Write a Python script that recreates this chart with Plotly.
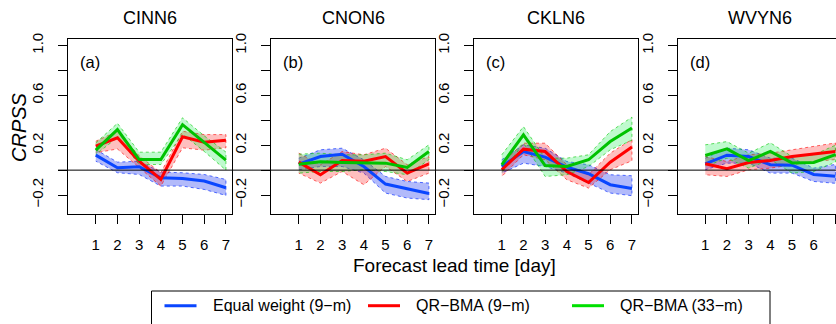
import plotly.graph_objects as go

# ---------------- data ----------------
lead_days = [1, 2, 3, 4, 5, 6, 7]
stations = ["CINN6", "CNON6", "CKLN6", "WVYN6"]
panel_tags = ["(a)", "(b)", "(c)", "(d)"]
method_names = ["Equal weight (9\u2212m)", "QR\u2212BMA (9\u2212m)", "QR\u2212BMA (33\u2212m)"]
y_tick_vals = [-0.2, 0.0, 0.2, 0.4, 0.6, 0.8, 1.0]
y_tick_text = ["\u22120.2", "", "0.2", "", "0.6", "", "1.0"]
x_tick_vals = [1, 2, 3, 4, 5, 6, 7]

# CINN6
cinn6_ew = [0.120, 0.019, 0.027, -0.061, -0.067, -0.088, -0.141]
cinn6_ew_lo = [0.072, -0.021, -0.035, -0.128, -0.128, -0.155, -0.203]
cinn6_ew_hi = [0.165, 0.064, 0.072, -0.016, -0.021, -0.035, -0.075]
cinn6_qr9 = [0.192, 0.259, 0.072, -0.075, 0.267, 0.224, 0.240]
cinn6_qr9_lo = [0.139, 0.170, 0.020, -0.128, 0.179, 0.160, 0.179]
cinn6_qr9_hi = [0.232, 0.312, 0.115, -0.021, 0.312, 0.285, 0.285]
cinn6_qr33 = [0.160, 0.325, 0.085, 0.085, 0.365, 0.224, 0.080]
cinn6_qr33_lo = [0.125, 0.262, 0.045, 0.045, 0.290, 0.150, 0.000]
cinn6_qr33_hi = [0.219, 0.376, 0.144, 0.144, 0.420, 0.275, 0.145]

# CNON6
cnon6_ew = [0.048, 0.109, 0.128, 0.029, -0.112, -0.152, -0.187]
cnon6_ew_lo = [0.003, 0.029, 0.029, -0.024, -0.184, -0.224, -0.237]
cnon6_ew_hi = [0.096, 0.163, 0.176, 0.083, -0.051, -0.091, -0.104]
cnon6_qr9 = [0.064, -0.037, 0.077, 0.072, 0.109, -0.024, 0.051]
cnon6_qr9_lo = [-0.024, -0.104, -0.011, -0.117, 0.029, -0.091, -0.024]
cnon6_qr9_hi = [0.136, 0.043, 0.149, 0.123, 0.176, 0.043, 0.109]
cnon6_qr33 = [0.048, 0.067, 0.061, 0.061, 0.056, 0.021, 0.149]
cnon6_qr33_lo = [-0.024, -0.011, -0.011, 0.003, -0.011, -0.037, 0.083]
cnon6_qr33_hi = [0.128, 0.136, 0.123, 0.123, 0.136, 0.083, 0.203]

# CKLN6
ckln6_ew = [0.029, 0.149, 0.104, 0.024, -0.029, -0.117, -0.147]
ckln6_ew_lo = [-0.024, 0.056, 0.029, -0.024, -0.104, -0.184, -0.205]
ckln6_ew_hi = [0.083, 0.203, 0.176, 0.069, 0.043, -0.037, -0.045]
ckln6_qr9 = [0.003, 0.168, 0.149, -0.011, -0.099, 0.064, 0.186]
ckln6_qr9_lo = [-0.051, 0.123, 0.083, -0.077, -0.144, 0.003, 0.075]
ckln6_qr9_hi = [0.056, 0.216, 0.216, 0.043, -0.037, 0.136, 0.246]
ckln6_qr33 = [0.043, 0.283, 0.037, 0.029, 0.083, 0.229, 0.338]
ckln6_qr33_lo = [-0.024, 0.216, -0.051, -0.037, 0.029, 0.163, 0.240]
ckln6_qr33_hi = [0.123, 0.349, 0.096, 0.096, 0.123, 0.309, 0.425]

# WVYN6
wvyn6_ew = [0.051, 0.120, 0.109, 0.043, 0.040, -0.035, -0.050]
wvyn6_ew_lo = [0.003, 0.056, 0.056, -0.024, -0.024, -0.091, -0.106]
wvyn6_ew_hi = [0.096, 0.176, 0.163, 0.096, 0.096, 0.016, 0.046]
wvyn6_qr9 = [0.051, 0.011, 0.061, 0.077, 0.109, 0.128, 0.150]
wvyn6_qr9_lo = [-0.037, -0.051, 0.003, 0.016, 0.043, 0.069, 0.085]
wvyn6_qr9_hi = [0.109, 0.069, 0.123, 0.136, 0.163, 0.189, 0.218]
wvyn6_qr33 = [0.117, 0.171, 0.077, 0.150, 0.058, 0.062, 0.125]
wvyn6_qr33_lo = [0.029, 0.096, 0.016, 0.085, -0.024, -0.011, 0.065]
wvyn6_qr33_hi = [0.203, 0.229, 0.136, 0.219, 0.109, 0.123, 0.200]

# ---------------- assemble ----------------
panels = [
    [(cinn6_ew, cinn6_ew_lo, cinn6_ew_hi), (cinn6_qr9, cinn6_qr9_lo, cinn6_qr9_hi), (cinn6_qr33, cinn6_qr33_lo, cinn6_qr33_hi)],
    [(cnon6_ew, cnon6_ew_lo, cnon6_ew_hi), (cnon6_qr9, cnon6_qr9_lo, cnon6_qr9_hi), (cnon6_qr33, cnon6_qr33_lo, cnon6_qr33_hi)],
    [(ckln6_ew, ckln6_ew_lo, ckln6_ew_hi), (ckln6_qr9, ckln6_qr9_lo, ckln6_qr9_hi), (ckln6_qr33, ckln6_qr33_lo, ckln6_qr33_hi)],
    [(wvyn6_ew, wvyn6_ew_lo, wvyn6_ew_hi), (wvyn6_qr9, wvyn6_qr9_lo, wvyn6_qr9_hi), (wvyn6_qr33, wvyn6_qr33_lo, wvyn6_qr33_hi)],
]

W, H = 836, 324
M_T, M_B = 39, 110
PH = H - M_T - M_B  # plot-area height in px


def px_x(x):
    return x / W


def px_y(y):
    return (H - M_B - y) / PH


line_colors = ["#0a46ff", "#ff0000", "#00c200"]
legend_colors = ["#0a46ff", "#ff0000", "#00e000"]
band_fills = ["rgba(0,25,240,0.30)", "rgba(255,0,0,0.25)", "rgba(0,235,60,0.25)"]
band_edges = ["rgba(0,40,255,0.65)", "rgba(255,0,0,0.6)", "rgba(0,200,0,0.6)"]

panel_left_px = [68, 271, 474, 677.5]
panel_w_px = 164
x_full = [-0.28, 7.28]
units_per_px = (x_full[1] - x_full[0]) / panel_w_px

FONT = "Liberation Sans, Arial, Helvetica, sans-serif"

fig = go.Figure()
layout_axes = {}
for i, series in enumerate(panels):
    sfx = "" if i == 0 else str(i + 1)
    xa, ya = "x" + sfx, "y" + sfx
    for j, (mid, lo, hi) in enumerate(series):
        fig.add_trace(go.Scatter(
            x=lead_days + lead_days[::-1], y=hi + lo[::-1],
            xaxis=xa, yaxis=ya, mode="lines", fill="toself",
            fillcolor=band_fills[j],
            line=dict(color=band_edges[j], width=1, dash="dot"),
            hoverinfo="skip", showlegend=False))
    for j, (mid, lo, hi) in enumerate(series):
        fig.add_trace(go.Scatter(
            x=lead_days, y=mid, xaxis=xa, yaxis=ya, mode="lines",
            line=dict(color=line_colors[j], width=3),
            name=method_names[j], showlegend=False))

    left = panel_left_px[i]
    right = left + panel_w_px
    if right > W:
        dom = [px_x(left), 1.0]
        xr = [x_full[0], x_full[1] - (right - W) * units_per_px]
    else:
        dom = [px_x(left), px_x(right)]
        xr = x_full
    layout_axes["xaxis" + sfx] = dict(
        domain=dom, range=xr, anchor=ya, tickmode="array", tickvals=x_tick_vals,
        ticks="outside", ticklen=9, tickwidth=1, tickcolor="black",
        showline=True, linecolor="black", linewidth=1, mirror=True,
        showgrid=False, zeroline=False,
        tickfont=dict(family=FONT, size=15, color="black"), ticklabelstandoff=8)
    layout_axes["yaxis" + sfx] = dict(
        domain=[0, 1], range=[-0.352, 1.052], anchor=xa, tickmode="array",
        tickvals=y_tick_vals, ticktext=y_tick_text, tickangle=-90,
        ticks="outside", ticklen=9, tickwidth=1, tickcolor="black",
        showline=True, linecolor="black", linewidth=1, mirror=(i < 3),
        showgrid=False, zeroline=False,
        tickfont=dict(family=FONT, size=15, color="black"), ticklabelstandoff=9)

annotations = []
shapes = []
for i in range(4):
    left = panel_left_px[i]
    annotations.append(dict(text=stations[i], x=px_x(left + panel_w_px / 2), y=px_y(18.5),
                            xref="paper", yref="paper", showarrow=False,
                            xanchor="center", yanchor="middle",
                            font=dict(family=FONT, size=18, color="black")))
    annotations.append(dict(text=panel_tags[i], x=px_x(left + 10), y=px_y(61.5),
                            xref="paper", yref="paper", showarrow=False,
                            xanchor="left", yanchor="middle",
                            font=dict(family=FONT, size=16.5, color="black")))

annotations.append(dict(text="<i>CRPSS</i>", x=px_x(19), y=px_y(127),
                        xref="paper", yref="paper", showarrow=False, textangle=-90,
                        xanchor="center", yanchor="middle",
                        font=dict(family=FONT, size=20, color="black")))
annotations.append(dict(text="Forecast lead time [day]", x=px_x(454), y=px_y(265),
                        xref="paper", yref="paper", showarrow=False,
                        xanchor="center", yanchor="middle",
                        font=dict(family=FONT, size=19, color="black")))

# zero reference line spanning all panels
shapes.append(dict(type="line", xref="paper", yref="y", x0=px_x(58), x1=1.0, y0=0, y1=0,
                   line=dict(color="black", width=1), layer="above"))

# legend box (cut by the bottom edge, as in the reference)
shapes.append(dict(type="rect", xref="paper", yref="paper",
                   x0=px_x(151.5), x1=px_x(770), y0=px_y(291), y1=px_y(340),
                   line=dict(color="black", width=1), fillcolor="rgba(0,0,0,0)"))
leg_line_x = [164.5, 368, 572]
for j in range(3):
    shapes.append(dict(type="line", xref="paper", yref="paper",
                       x0=px_x(leg_line_x[j]), x1=px_x(leg_line_x[j] + 32),
                       y0=px_y(305.7), y1=px_y(305.7),
                       line=dict(color=legend_colors[j], width=3)))
    annotations.append(dict(text=method_names[j], x=px_x(leg_line_x[j] + 46), y=px_y(305.7),
                            xref="paper", yref="paper", showarrow=False,
                            xanchor="left", yanchor="middle",
                            font=dict(family=FONT, size=16, color="black")))

fig.update_layout(
    width=W, height=H, margin=dict(l=0, r=0, t=M_T, b=M_B, pad=0),
    paper_bgcolor="white", plot_bgcolor="white", showlegend=False,
    annotations=annotations, shapes=shapes, **layout_axes)

fig.write_html(
    "out.html",
    config={"displayModeBar": False},
    post_script="document.body.style.margin='0';document.body.style.padding='0';"
                "document.documentElement.style.overflow='hidden';",
)
